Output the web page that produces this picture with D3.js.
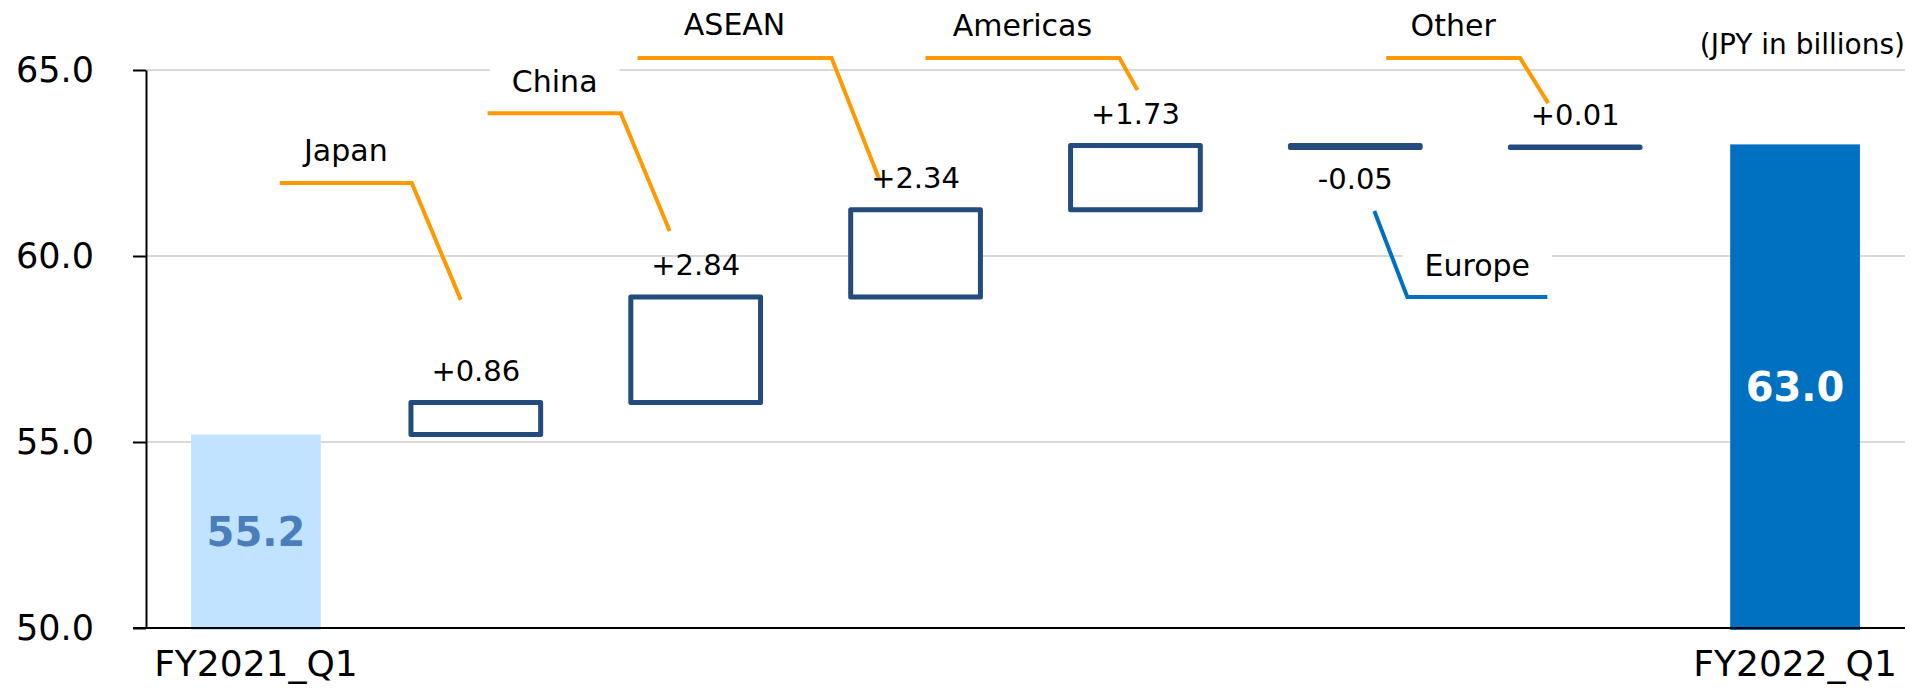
<!DOCTYPE html>
<head>
<meta charset="utf-8">
<style type="text/css">
body { margin: 0; background: white; }
text { font-family: Verdana, "DejaVu Sans", sans-serif; fill: #000; }
.grid line { stroke: #D9D9D9; stroke-width: 2; }
.step { fill: white; stroke: #234B7E; stroke-width: 5; stroke-linejoin: round; }
.leader { fill: none; stroke-width: 4; }
</style>
</head>
<body>
<script src="https://d3js.org/d3.v7.min.js"></script>
<script type="text/javascript">
  // data
  var categories = ["FY2021_Q1", "Japan", "China", "ASEAN", "Americas", "Europe", "Other", "FY2022_Q1"];
  var startValue = 55.2;
  var endValue = 63.0;
  var changes = [0.86, 2.84, 2.34, 1.73, -0.05, 0.01];
  var changeLabels = ["+0.86", "+2.84", "+2.34", "+1.73", "-0.05", "+0.01"];
  var yTicks = [50, 55, 60, 65];
  var unitLabel = "(JPY in billions)";

  var width = 1923, height = 688;
  var plotLeft = 146, plotRight = 1905, plotTop = 70, plotBottom = 628;
  var orange = "#FF9900";

  var svg = d3.select('body').append('svg')
          .attr('width', width)
          .attr('height', height);

  var x = d3.scaleBand().domain(categories).range([plotLeft, plotRight])
          .paddingInner(0.41).paddingOuter(0.205);
  var y = d3.scaleLinear().domain([50, 65]).range([plotBottom, plotTop]);

  // running totals for the waterfall steps
  var run = startValue;
  var steps = changes.map(function(c, i) {
    var s = { name: categories[i + 1], from: run, to: run + c, label: changeLabels[i] };
    run += c;
    return s;
  });

  // gridlines
  svg.append('g').attr('class', 'grid')
    .selectAll('line').data(yTicks.filter(function(d) { return d > 50; }))
    .enter().append('line')
      .attr('x1', plotLeft).attr('x2', plotRight)
      .attr('y1', function(d) { return y(d); })
      .attr('y2', function(d) { return y(d); });

  // callout placement: [dx from bar centre in px, value on y]
  var callouts = [
    { name: "Japan", color: orange, pts: [[-196, 61.96], [-64, 61.96], [-15, 58.82]], text: [-130, 62.55] },
    { name: "China", color: orange, pts: [[-208, 63.84], [-75, 63.84], [-26, 60.67]], text: [-141, 64.41] },
    { name: "ASEAN", color: orange, pts: [[-278, 65.32], [-84, 65.32], [-36, 62.04]], text: [-181, 65.94] },
    { name: "Americas", color: orange, pts: [[-210, 65.32], [-16, 65.32], [2, 64.46]], text: [-113, 65.91] },
    { name: "Europe", color: "#0070C0", pts: [[19, 61.21], [52, 58.90], [192, 58.90]], text: [122, 59.46] },
    { name: "Other", color: orange, pts: [[-189, 65.32], [-55, 65.32], [-27, 64.11]], text: [-122, 65.91] }
  ];
  function cx(name) { return x(name) + x.bandwidth() / 2; }

  var co = svg.append('g').selectAll('g').data(callouts).enter().append('g');
  co.append('text')
      .attr('x', function(d) { return cx(d.name) + d.text[0]; })
      .attr('y', function(d) { return y(d.text[1]); })
      .attr('text-anchor', 'middle')
      .style('font-size', '30px')
      .text(function(d) { return d.name; })
      .each(function() {
        var b = this.getBBox();
        d3.select(this.parentNode).insert('rect', 'text')
          .attr('x', b.x - 22).attr('y', b.y - 4)
          .attr('width', b.width + 44).attr('height', b.height + 8)
          .attr('fill', 'white');
      });
  co.append('polyline')
      .attr('class', 'leader')
      .attr('stroke', function(d) { return d.color; })
      .attr('points', function(d) {
        return d.pts.map(function(p) { return (cx(d.name) + p[0]) + ',' + y(p[1]); }).join(' ');
      });

  // total bars
  var totals = [
    { name: categories[0], value: startValue, fill: '#C1E3FF', color: '#4A7EBB' },
    { name: categories[categories.length - 1], value: endValue, fill: '#0070C0', color: '#FFFFFF' }
  ];
  svg.selectAll('.total').data(totals).enter().append('rect')
      .attr('class', 'total')
      .attr('x', function(d) { return x(d.name); })
      .attr('y', function(d) { return y(d.value); })
      .attr('width', x.bandwidth())
      .attr('height', function(d) { return y(50) - y(d.value) + 2; })
      .attr('fill', function(d) { return d.fill; });
  svg.selectAll('.total-label').data(totals).enter().append('text')
      .attr('class', 'total-label')
      .attr('x', function(d) { return cx(d.name); })
      .attr('y', function(d) { return (y(d.value) + y(50)) / 2; })
      .attr('dy', '0.36em')
      .attr('text-anchor', 'middle')
      .style('font-size', '40px')
      .style('font-weight', 'bold')
      .style('fill', function(d) { return d.color; })
      .text(function(d) { return d.value.toFixed(1); });

  // waterfall steps
  svg.selectAll('.step').data(steps).enter().append('rect')
      .attr('class', 'step')
      .attr('x', function(d) { return x(d.name); })
      .attr('y', function(d) { return y(Math.max(d.from, d.to)); })
      .attr('width', x.bandwidth())
      .attr('height', function(d) { return Math.abs(y(d.from) - y(d.to)); });
  svg.selectAll('.step-label').data(steps).enter().append('text')
      .attr('class', 'step-label')
      .attr('x', function(d) { return cx(d.name); })
      .attr('y', function(d) {
        return d.to >= d.from ? y(d.to) - 22 : y(d.to) + 42;
      })
      .attr('text-anchor', 'middle')
      .style('font-size', '29px')
      .text(function(d) { return d.label; });

  // axes
  var yAxis = svg.append('g')
      .attr('transform', 'translate(' + plotLeft + ',0)')
      .call(d3.axisLeft(y).tickValues(yTicks).tickFormat(d3.format('.1f'))
            .tickSize(13).tickSizeOuter(0).tickPadding(39));
  yAxis.selectAll('path, line').attr('stroke', '#000').attr('stroke-width', 2);
  yAxis.selectAll('text').style('font-size', '35px').style('font-family', 'Verdana, "DejaVu Sans", sans-serif');

  var xAxis = svg.append('g')
      .attr('transform', 'translate(0,' + plotBottom + ')')
      .call(d3.axisBottom(x).tickSize(0).tickPadding(22)
            .tickFormat(function(d) { return d.indexOf('FY') === 0 ? d : ''; }));
  xAxis.select('.domain').remove();
  xAxis.selectAll('text').style('font-size', '36px').style('font-family', 'Verdana, "DejaVu Sans", sans-serif');
  svg.append('line')
      .attr('x1', plotLeft - 13).attr('x2', plotRight)
      .attr('y1', plotBottom).attr('y2', plotBottom)
      .attr('stroke', '#000').attr('stroke-width', 2);

  svg.append('text')
      .attr('x', 1905).attr('y', 54)
      .attr('text-anchor', 'end')
      .style('font-size', '28px')
      .text(unitLabel);
</script>
</body>
